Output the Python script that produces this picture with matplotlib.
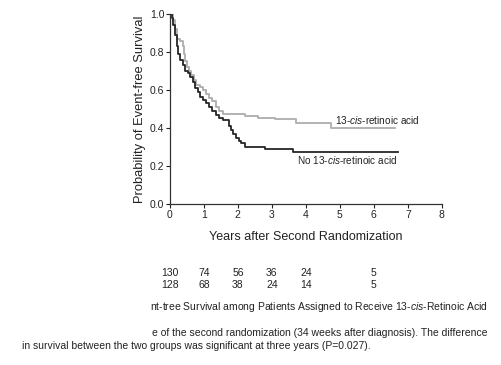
import numpy as np
import matplotlib.pyplot as plt
from matplotlib.transforms import blended_transform_factory

plt.rcParams['font.family'] = ['Liberation Sans', 'DejaVu Sans']
plt.rcParams['mathtext.fontset'] = 'custom'
plt.rcParams['mathtext.rm'] = 'Liberation Sans'
plt.rcParams['mathtext.it'] = 'Liberation Sans:italic'

# krivky preziti
t_no = [0, 0.05, 0.1, 0.15, 0.2, 0.25, 0.3, 0.38, 0.45, 0.52, 0.6, 0.68, 0.75,
        0.82, 0.9, 0.98, 1.06, 1.15, 1.25, 1.35, 1.45, 1.55, 1.75, 1.8, 1.87,
        1.95, 2.02, 2.1, 2.2, 2.8, 3.62, 6.72]
s_no = [1.0, 0.98, 0.94, 0.89, 0.83, 0.79, 0.76, 0.73, 0.70, 0.69, 0.67, 0.64,
        0.61, 0.59, 0.565, 0.545, 0.53, 0.51, 0.49, 0.47, 0.45, 0.44, 0.41,
        0.39, 0.37, 0.345, 0.33, 0.32, 0.30, 0.29, 0.275, 0.275]

t_cis = [0, 0.08, 0.15, 0.22, 0.3, 0.38, 0.42, 0.46, 0.5, 0.55, 0.62, 0.7, 0.78,
         0.9, 0.98, 1.06, 1.15, 1.25, 1.35, 1.45, 1.55, 2.2, 2.6, 3.1, 3.7,
         4.73, 6.63]
s_cis = [1.0, 0.97, 0.92, 0.87, 0.855, 0.83, 0.79, 0.75, 0.72, 0.70, 0.68, 0.65,
         0.625, 0.615, 0.60, 0.58, 0.56, 0.54, 0.51, 0.49, 0.475, 0.465, 0.455,
         0.445, 0.425, 0.40, 0.40]

# pocty pacientu v riziku (6. rok necitelny)
risk_years = [0, 1, 2, 3, 4, 6]
risk_cis = ['130', '74', '56', '36', '24', '5']
risk_no = ['128', '68', '38', '24', '14', '5']

fig = plt.figure(figsize=(5.01, 3.65), dpi=100)
ax = fig.add_axes([0.339, 0.441, 0.543, 0.521])

ax.plot(t_cis, s_cis, drawstyle='steps-post', color='#adadad', lw=1.3)
ax.plot(t_no, s_no, drawstyle='steps-post', color='#262626', lw=1.3)

ax.text(4.85, 0.42, '13-$\\it{cis}$-retinoic acid', fontsize=7.2, color='#222222')
ax.text(3.75, 0.21, 'No 13-$\\it{cis}$-retinoic acid', fontsize=7.2, color='#222222')

ax.set_xlim(0, 8)
ax.set_ylim(0, 1.0)
ax.set_xticks(range(9))
ax.set_yticks([0, 0.2, 0.4, 0.6, 0.8, 1.0])
ax.set_yticklabels(['0.0', '0.2', '0.4', '0.6', '0.8', '1.0'])
ax.tick_params(labelsize=7.5, length=3, width=0.8, pad=1, colors='#222222')
for s in ['top', 'right']:
    ax.spines[s].set_visible(False)
for s in ['left', 'bottom']:
    ax.spines[s].set_linewidth(0.9)
    ax.spines[s].set_color('#333333')
ax.set_xlabel('Years after Second Randomization', fontsize=9, labelpad=8, color='#222222')
ax.set_ylabel('Probability of Event-free Survival', fontsize=9.3, labelpad=3, color='#222222')

tr = blended_transform_factory(ax.transData, fig.transFigure)
for x, a, b in zip(risk_years, risk_cis, risk_no):
    ax.text(x, 1 - 272.5 / 365, a, transform=tr, ha='center', va='center', fontsize=7.5, color='#222222')
    ax.text(x, 1 - 284.5 / 365, b, transform=tr, ha='center', va='center', fontsize=7.5, color='#222222')

fig.text(488 / 501, 1 - 306.5 / 365,
         'nt-tree Survival among Patients Assigned to Receive 13-$\\it{cis}$-Retinoic Acid',
         ha='right', va='center', fontsize=7.5, color='#222222')
fig.text(488 / 501, 1 - 333 / 365,
         'e of the second randomization (34 weeks after diagnosis). The difference',
         ha='right', va='center', fontsize=7.5, color='#222222')
fig.text(22 / 501, 1 - 346 / 365,
         'in survival between the two groups was significant at three years (P=0.027).',
         ha='left', va='center', fontsize=7.5, color='#222222')

fig.savefig('out.png', dpi=100)
